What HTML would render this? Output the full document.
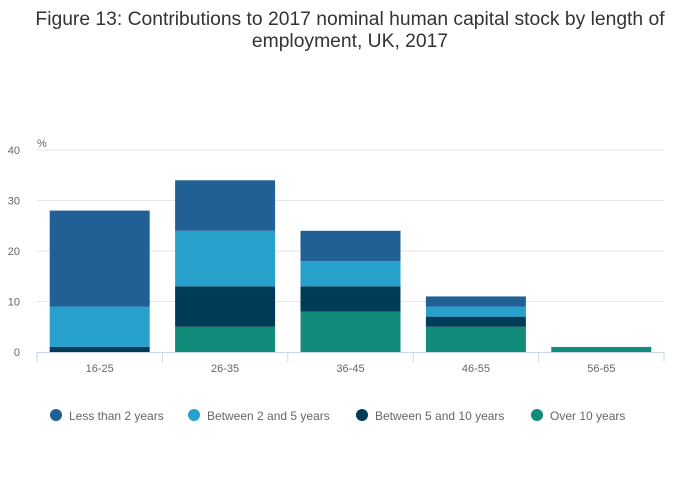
<!DOCTYPE html>
<html><head><meta charset="utf-8"><style>
body{margin:0;background:#fff;font-family:"Liberation Sans",sans-serif;}
#wrap{position:relative;width:700px;height:502px;overflow:hidden;}
</style></head><body>
<div id="wrap">
<svg id="chart" width="700" height="502">
<text x="350" y="25" text-anchor="middle" font-size="19.3" fill="#333">Figure 13: Contributions to 2017 nominal human capital stock by length of</text>
<text x="350" y="47" text-anchor="middle" font-size="19.3" fill="#333">employment, UK, 2017</text>
<text x="37" y="147" font-size="11" fill="#666">%</text>
<g id="grid"></g><g id="bars"></g><g id="axis"></g><g id="legend"></g>
</svg>
</div>
<script>
const categories=["16-25","26-35","36-45","46-55","56-65"];
const seriesNames=["Less than 2 years","Between 2 and 5 years","Between 5 and 10 years","Over 10 years"];
const over10=[0,5,8,5,1];
const y5to10=[1,8,5,2,0];
const y2to5=[8,11,5,2,0];
const lt2=[19,10,6,2,0];
const yTicks=[0,10,20,30,40];
const colors={lt2:"#206095",y2to5:"#27a0cc",y5to10:"#003c57",over10:"#118c7b"};
const NS="http://www.w3.org/2000/svg";
const x0=37,x1=664,yBase=352,yTop=150,yMax=40;
const bw=(x1-x0)/categories.length;
function y(v){return yBase-(v/yMax)*(yBase-yTop);}
function xc(i){return x0+bw*(i+0.5);}
function mk(tag,attrs,parent){const e=document.createElementNS(NS,tag);for(const k in attrs)e.setAttribute(k,attrs[k]);parent.appendChild(e);return e;}
const grid=document.getElementById('grid'),bars=document.getElementById('bars'),axis=document.getElementById('axis'),legend=document.getElementById('legend');
yTicks.forEach(t=>{
  if(t>0){const l=mk('line',{x1:x0,x2:x1,y1:y(t),y2:y(t),stroke:'#e6e6e6'},grid);
  
  }
  const tx=mk('text',{x:20,y:y(t)+4,'text-anchor':'end','font-size':11,fill:'#666'},grid);
  tx.textContent=t;
  
  
});
const order=[["over10",over10],["y5to10",y5to10],["y2to5",y2to5],["lt2",lt2]];
categories.forEach((c,i)=>{
  let acc=0;
  order.forEach(([k,arr])=>{
    const v=arr[i];
    if(v>0){
      const r=mk('rect',{x:xc(i)-50,width:100,y:y(acc+v),height:y(acc)-y(acc+v),fill:colors[k]},bars);
      
      
    }
    acc+=v;
  });
  const tx=mk('text',{x:xc(i),y:372,'text-anchor':'middle','font-size':11,fill:'#666'},axis);
  tx.textContent=c;
  
  
});
const base=mk('line',{x1:x0,x2:x1,y1:yBase+0.5,y2:yBase+0.5,stroke:'#ccd6eb'},axis);


for(let i=0;i<=categories.length;i++){
  const tk=mk('line',{x1:x0+bw*i,x2:x0+bw*i,y1:yBase,y2:yBase+10,stroke:'#ccd6eb'},axis);
  
  
}
const lx=[56,194,362,537],lk=["lt2","y2to5","y5to10","over10"];
seriesNames.forEach((n,i)=>{
  const g=mk('g',{},legend);
  
  
  mk('circle',{cx:lx[i],cy:415,r:6,fill:colors[lk[i]]},g);
  const t=mk('text',{x:lx[i]+13,y:420,'font-size':12,fill:'#666'},g);
  t.textContent=n;
});
</script>
</body></html>
